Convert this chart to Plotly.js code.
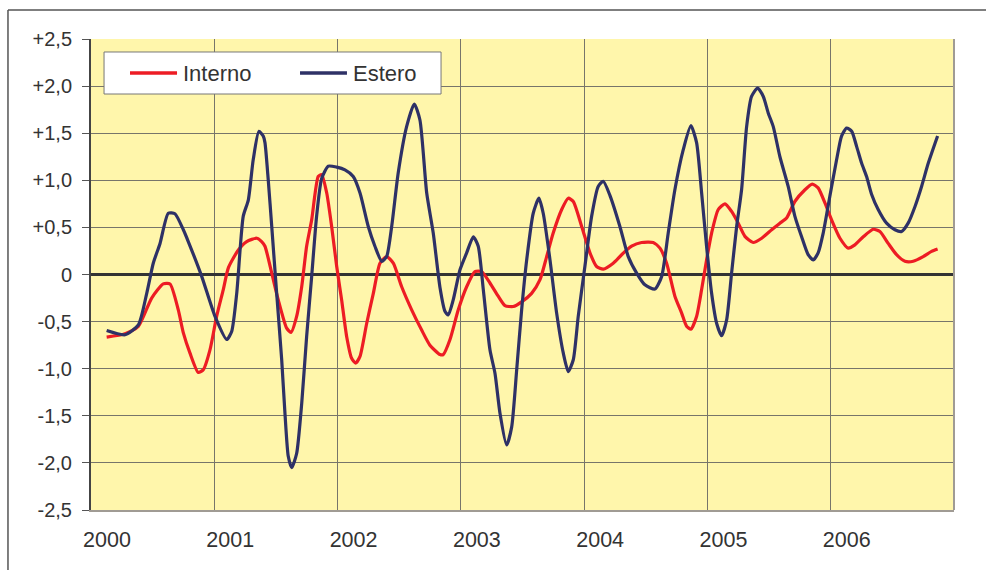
<!DOCTYPE html>
<html>
<head>
<meta charset="utf-8">
<script src="https://cdn.plot.ly/plotly-3.0.1.min.js"></script>
<style>html,body{margin:0;padding:0;background:#fff;}#chart{width:986px;height:570px;}</style>
</head>
<body>
<div id="chart"></div>
<script>
// Time positions (decimal years) and values
const esteroX = [2000.127,2000.276,2000.384,2000.452,2000.505,2000.560,2000.627,2000.681,2000.749,2000.789,2000.898,2001.006,2001.101,2001.141,2001.182,2001.235,2001.276,2001.316,2001.362,2001.397,2001.411,2001.438,2001.466,2001.506,2001.547,2001.573,2001.600,2001.628,2001.668,2001.709,2001.749,2001.790,2001.830,2001.871,2001.925,2001.993,2002.060,2002.127,2002.182,2002.249,2002.303,2002.358,2002.398,2002.439,2002.492,2002.560,2002.622,2002.668,2002.723,2002.776,2002.831,2002.871,2002.898,2002.938,2002.993,2003.047,2003.101,2003.141,2003.182,2003.236,2003.277,2003.317,2003.371,2003.412,2003.453,2003.493,2003.534,2003.587,2003.633,2003.668,2003.723,2003.777,2003.831,2003.871,2003.912,2003.952,2004.006,2004.061,2004.114,2004.155,2004.209,2004.290,2004.358,2004.426,2004.493,2004.574,2004.629,2004.682,2004.736,2004.804,2004.866,2004.912,2004.953,2004.993,2005.034,2005.075,2005.115,2005.156,2005.196,2005.237,2005.277,2005.318,2005.358,2005.407,2005.453,2005.493,2005.534,2005.588,2005.655,2005.709,2005.764,2005.817,2005.858,2005.898,2005.939,2005.993,2006.048,2006.088,2006.129,2006.170,2006.210,2006.251,2006.291,2006.332,2006.385,2006.453,2006.521,2006.575,2006.628,2006.683,2006.737,2006.791,2006.867];
const esteroY = [-0.595,-0.64,-0.535,-0.20,0.12,0.33,0.65,0.645,0.475,0.35,-0.02,-0.445,-0.69,-0.605,-0.20,0.62,0.79,1.22,1.52,1.47,1.40,1.0,0.51,-0.20,-0.91,-1.47,-1.93,-2.05,-1.90,-1.37,-0.66,-0.02,0.62,1.02,1.15,1.14,1.11,1.04,0.865,0.51,0.30,0.14,0.19,0.51,1.08,1.57,1.81,1.64,0.865,0.44,-0.14,-0.39,-0.43,-0.27,0.05,0.23,0.40,0.30,-0.16,-0.80,-1.05,-1.47,-1.81,-1.62,-1.01,-0.375,0.155,0.65,0.81,0.65,0.155,-0.41,-0.835,-1.03,-0.905,-0.445,0.085,0.62,0.935,0.99,0.84,0.51,0.19,0.015,-0.11,-0.155,-0.02,0.44,0.90,1.325,1.58,1.40,0.865,0.30,-0.20,-0.52,-0.65,-0.48,0.015,0.51,0.90,1.57,1.89,1.98,1.89,1.715,1.57,1.25,0.935,0.62,0.40,0.21,0.155,0.23,0.44,0.83,1.22,1.47,1.555,1.52,1.36,1.18,1.04,0.85,0.69,0.545,0.475,0.457,0.545,0.72,0.935,1.18,1.47];

const internoX = [2000.127,2000.276,2000.384,2000.492,2000.586,2000.641,2000.708,2000.749,2000.803,2000.870,2000.911,2000.965,2001.019,2001.073,2001.114,2001.195,2001.263,2001.344,2001.384,2001.411,2001.466,2001.519,2001.587,2001.622,2001.668,2001.709,2001.749,2001.790,2001.843,2001.871,2001.912,2001.952,2001.993,2002.033,2002.074,2002.114,2002.147,2002.182,2002.236,2002.290,2002.344,2002.398,2002.452,2002.520,2002.601,2002.682,2002.749,2002.831,2002.857,2002.912,2002.979,2003.047,2003.114,2003.169,2003.236,2003.303,2003.358,2003.425,2003.493,2003.574,2003.642,2003.696,2003.749,2003.818,2003.871,2003.912,2003.980,2004.047,2004.101,2004.155,2004.236,2004.304,2004.385,2004.466,2004.560,2004.615,2004.669,2004.736,2004.791,2004.831,2004.866,2004.912,2004.953,2004.993,2005.034,2005.088,2005.142,2005.196,2005.250,2005.304,2005.371,2005.440,2005.521,2005.588,2005.642,2005.709,2005.791,2005.850,2005.898,2005.953,2006.007,2006.075,2006.142,2006.196,2006.264,2006.345,2006.399,2006.466,2006.534,2006.602,2006.669,2006.750,2006.818,2006.867];
const internoY = [-0.665,-0.63,-0.55,-0.25,-0.10,-0.10,-0.375,-0.62,-0.835,-1.04,-1.01,-0.80,-0.445,-0.16,0.07,0.26,0.35,0.385,0.35,0.30,0.015,-0.27,-0.57,-0.615,-0.445,-0.13,0.30,0.58,1.04,1.06,0.865,0.51,0.085,-0.27,-0.66,-0.89,-0.94,-0.87,-0.52,-0.20,0.12,0.19,0.12,-0.13,-0.375,-0.59,-0.75,-0.85,-0.85,-0.69,-0.375,-0.13,0.03,0.03,-0.09,-0.23,-0.33,-0.34,-0.29,-0.20,-0.055,0.19,0.44,0.69,0.81,0.775,0.51,0.23,0.085,0.057,0.12,0.21,0.30,0.34,0.34,0.28,0.12,-0.23,-0.41,-0.55,-0.58,-0.445,-0.16,0.155,0.44,0.69,0.75,0.67,0.545,0.405,0.34,0.385,0.475,0.545,0.60,0.775,0.90,0.96,0.92,0.76,0.58,0.385,0.28,0.315,0.40,0.48,0.457,0.33,0.21,0.14,0.14,0.19,0.245,0.27];

const yearTicks = [2000,2001,2002,2003,2004,2005,2006];
const yearLabels = ['2000','2001','2002','2003','2004','2005','2006'];
const yTicks = [-2.5,-2,-1.5,-1,-0.5,0,0.5,1,1.5,2,2.5];
const yLabels = ['-2,5','-2,0','-1,5','-1,0','-0,5','0','+0,5','+1,0','+1,5','+2,0','+2,5'];
const seriesNames = ['Interno','Estero'];
const seriesColors = ['#ED1C24','#2E3166'];

const font = 'Liberation Sans, Arial, sans-serif';

const traces = [
  {x: internoX, y: internoY, name: seriesNames[0], type: 'scatter', mode: 'lines',
   line: {color: seriesColors[0], width: 3.2, shape: 'spline', smoothing: 0.6}},
  {x: esteroX, y: esteroY, name: seriesNames[1], type: 'scatter', mode: 'lines',
   line: {color: seriesColors[1], width: 3.2, shape: 'spline', smoothing: 0.6}}
];

// legend box (paper coordinates of the plot area)
const legY = 0.9278;
const legendShapes = [
  {type: 'rect', xref: 'paper', yref: 'paper', x0: 0.0151, x1: 0.4056, y0: 0.8832, y1: 0.9724,
   fillcolor: '#ffffff', line: {color: '#777777', width: 1}},
  {type: 'line', xref: 'paper', yref: 'paper', x0: 0.0452, x1: 0.0997, y0: legY, y1: legY,
   line: {color: seriesColors[0], width: 3.5}},
  {type: 'line', xref: 'paper', yref: 'paper', x0: 0.2422, x1: 0.2966, y0: legY, y1: legY,
   line: {color: seriesColors[1], width: 3.5}}
];
const legendText = [
  {xref: 'paper', yref: 'paper', x: 0.1044, y: legY, xanchor: 'left', yanchor: 'middle',
   text: seriesNames[0], showarrow: false, font: {family: font, size: 22, color: '#333333'}},
  {xref: 'paper', yref: 'paper', x: 0.3014, y: legY, xanchor: 'left', yanchor: 'middle',
   text: seriesNames[1], showarrow: false, font: {family: font, size: 22, color: '#333333'}}
];

const layout = {
  width: 986, height: 570,
  margin: {l: 91, r: 32, t: 39, b: 60, pad: 0},
  paper_bgcolor: '#ffffff',
  plot_bgcolor: '#FFF6AB',
  font: {family: font, color: '#333333'},
  showlegend: false,
  xaxis: {
    range: [2000, 2007], tickmode: 'array', tickvals: yearTicks, ticktext: yearLabels,
    showgrid: true, gridcolor: '#77756a', gridwidth: 1,
    ticks: '', ticklabelshift: 16, ticklabelstandoff: 9,
    tickfont: {family: font, size: 21.5, color: '#333333'},
    showline: true, linecolor: '#a09b94', linewidth: 2,
    zeroline: false, fixedrange: true
  },
  yaxis: {
    range: [-2.5, 2.5], tickmode: 'array', tickvals: yTicks, ticktext: yLabels,
    showgrid: true, gridcolor: '#77756a', gridwidth: 1,
    ticks: 'outside', ticklen: 7, tickcolor: '#555555', tickwidth: 1,
    ticklabelstandoff: 6,
    tickfont: {family: font, size: 20, color: '#333333'},
    showline: true, linecolor: '#444444', linewidth: 2,
    zeroline: true, zerolinecolor: '#333333', zerolinewidth: 3, fixedrange: true
  },
  shapes: [
    {type: 'line', xref: 'paper', yref: 'paper', x0: 1, x1: 1, y0: 0, y1: 1,
     line: {color: '#a09b94', width: 2}},
    {type: 'line', xref: 'paper', yref: 'paper', x0: -0.0962, x1: 1.04, y0: 1.0616, y1: 1.0616,
     line: {color: '#555555', width: 1.5}},
    {type: 'line', xref: 'paper', yref: 'paper', x0: -0.0962, x1: -0.0962, y0: 1.0616, y1: -0.13,
     line: {color: '#555555', width: 1.5}}
  ].concat(legendShapes),
  annotations: legendText
};

Plotly.newPlot('chart', traces, layout, {displayModeBar: false, staticPlot: true});
</script>
</body>
</html>
